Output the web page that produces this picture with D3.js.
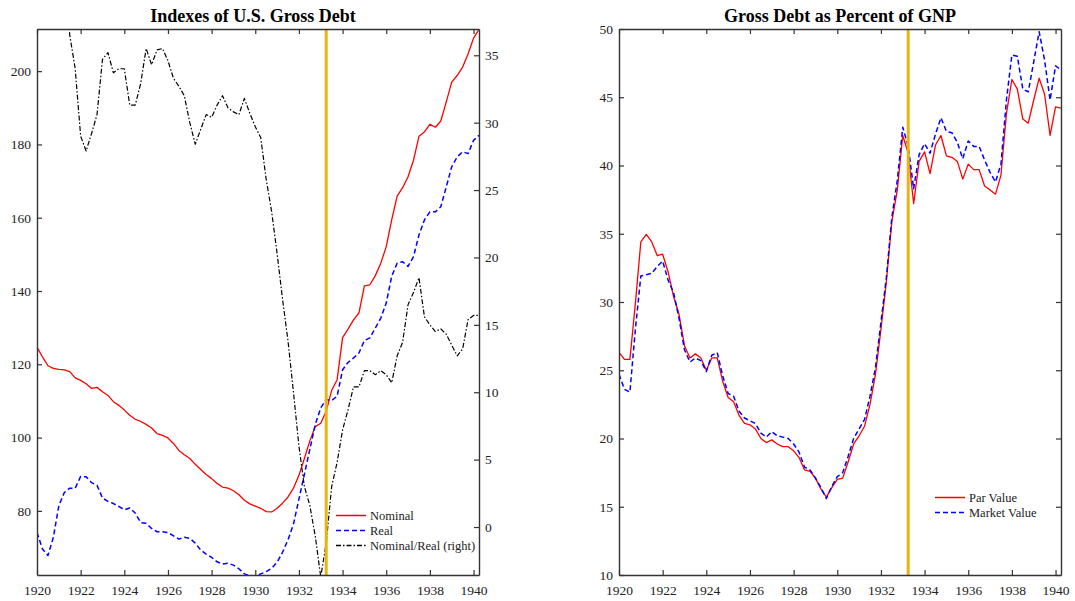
<!DOCTYPE html>
<html><head><meta charset="utf-8">
<script src="https://cdn.jsdelivr.net/npm/d3@7"></script>
<style>
body{margin:0;background:#fff;}
text{font-family:"Liberation Serif","Times New Roman",serif;}
</style>
</head><body><svg id="c" width="1075" height="601"></svg>
<script>
// ---------------- DATA (quarterly, starting 1920Q1) ----------------
const startYear = 1920;
const stepYears = 0.25;
const eventYear = 1933.25;

const nominal = [
 124.7,122.0,119.6,118.9, 118.6,118.5,118.0,116.3, 115.6,114.7,113.4,113.7,
 112.5,111.5,109.8,108.8, 107.5,106.1,105.0,104.4, 103.6,102.6,101.1,100.6,
 99.9,98.4,96.5,95.3, 94.3,92.7,91.3,89.9, 88.8,87.5,86.5,86.2,
 85.5,84.4,82.9,81.9, 81.3,80.7,79.8,79.7, 80.7,82.1,83.8,86.2,
 89.7,94.3,99.1,103.0, 103.9,107.2,112.9,115.8, 127.3,129.6,132.1,134.0,
 141.4,141.7,144.2,147.6, 152.1,159.4,165.9,168.2, 171.2,175.7,182.2,183.4,
 185.5,184.7,186.4,191.6, 197.0,198.8,201.1,204.7, 209.0,211.4
];
const real = [
 74.1,69.6,67.8,72.8, 81.4,85.0,86.2,86.2, 89.4,89.3,87.7,87.0,
 83.5,82.6,82.0,81.2, 80.3,80.8,79.4,76.8, 76.6,75.2,74.3,74.3,
 74.1,73.2,72.3,72.8, 72.5,71.2,69.3,68.2, 67.3,66.1,65.5,65.7,
 65.2,64.2,62.8,62.3, 62.2,62.8,63.4,64.3, 66.0,68.7,72.1,76.4,
 83.2,90.0,96.8,103.6, 108.1,110.4,110.1,111.3, 118.5,120.5,121.7,123.1,
 126.5,127.2,129.9,132.6, 136.7,144.0,147.6,148.0, 146.7,149.4,155.3,159.4,
 161.6,161.6,163.0,168.4, 173.9,176.6,178.0,177.5, 181.1,182.5
];
const ratioRight = [
 64,75,76,62, 46,42,36.5,34.0, 29.0,27.9,29.2,30.6,
 34.7,35.2,33.7,34.0, 34.0,31.3,31.3,32.9, 35.5,34.3,35.4,35.5,
 34.6,33.3,32.7,32.0, 30.0,28.4,29.5,30.6, 30.4,31.3,32.0,31.1,
 30.8,30.6,31.8,30.7, 29.7,28.9,25.8,23.4, 20.3,16.9,13.8,10.0,
 6.0,3.0,1.6,-0.7, -3.7,-1.2,3.0,4.8, 7.2,8.7,10.4,10.4,
 11.6,11.6,11.3,11.6, 11.3,10.7,12.7,13.7, 16.5,17.4,18.5,15.6,
 15.0,14.5,14.7,14.3, 13.5,12.7,13.2,15.4, 15.7,15.7
];
const parValue = [
 26.3,25.8,25.8,29.9, 34.4,34.95,34.4,33.4, 33.5,32.2,30.4,29.1,
 26.8,25.9,26.2,25.9, 25.0,25.9,25.9,24.2, 23.0,22.7,21.7,21.1,
 21.0,20.7,20.0,19.7, 19.9,19.6,19.4,19.4, 19.1,18.6,17.7,17.6,
 17.1,16.3,15.7,16.4, 17.0,17.1,18.3,19.6, 20.2,20.9,22.5,24.7,
 28.0,31.5,35.9,38.2, 42.2,40.9,37.2,40.3, 41.0,39.4,41.5,42.2,
 40.7,40.6,40.3,39.0, 40.1,39.7,39.7,38.5, 38.2,37.9,39.3,43.8,
 46.3,45.6,43.4,43.1, 44.8,46.4,45.2,42.2, 44.3,44.2
];
const marketValue = [
 24.7,23.6,23.4,28.0, 31.9,32.0,32.1,32.6, 33.0,31.6,30.7,28.8,
 26.5,25.6,25.9,25.7, 24.9,26.1,26.3,24.6, 23.3,23.1,22.0,21.5,
 21.3,21.1,20.4,20.1, 20.5,20.2,20.1,20.0, 19.6,19.0,17.9,17.7,
 17.1,16.4,15.6,16.5, 17.2,17.5,18.7,20.0, 20.7,21.4,23.1,25.2,
 28.5,31.8,36.2,38.9, 42.8,41.4,38.3,40.8, 41.6,40.9,42.3,43.5,
 42.5,42.4,41.7,40.5, 41.8,41.4,41.4,40.4, 39.5,38.8,40.1,44.8,
 48.1,48.0,45.6,45.4, 47.6,49.8,47.7,44.8, 47.3,47.0
];

const xTickValues = [1920,1922,1924,1926,1928,1930,1932,1934,1936,1938,1940];
const indexTicks = [80,100,120,140,160,180,200];
const ratioTicks = [0,5,10,15,20,25,30,35];
const gnpTicks = [10,15,20,25,30,35,40,45,50];

const leftTitle = "Indexes of U.S. Gross Debt";
const rightTitle = "Gross Debt as Percent of GNP";
const leftLegend = ["Nominal","Real","Nominal/Real (right)"];
const rightLegend = ["Par Value","Market Value"];

// ---------------- DRAWING ----------------
const years = nominal.map((_, i) => startYear + i * stepYears);
const svg = d3.select("#c");
const AX = "#333", TXT = "#222";
const styles = {
  red:   {stroke:"#ff0000", width:1.3, dash:null},
  blue:  {stroke:"#0000ff", width:1.5, dash:"5,3"},
  black: {stroke:"#000000", width:1.2, dash:"5,2,1.5,2"}
};

function styleAxis(g, fs) {
  g.selectAll("path.domain").attr("stroke", AX).attr("stroke-width", 1.4);
  g.selectAll(".tick line").attr("stroke", AX).attr("stroke-width", 1.2);
  g.selectAll(".tick text").attr("fill", TXT).style("font-size", fs + "px")
    .style("font-family", '"Liberation Serif","Times New Roman",serif');
}

function panel(cfg) {
  const {L, R, T, B} = cfg;
  const g = svg.append("g");
  const x = d3.scaleLinear().domain([1920, 1940.25]).range([L, R]);
  const y = d3.scaleLinear().domain(cfg.yDomain).range([B, T]);
  const clipId = "clip" + cfg.id;
  svg.append("clipPath").attr("id", clipId).append("rect")
    .attr("x", L).attr("y", T).attr("width", R - L).attr("height", B - T);

  // title
  g.append("text").attr("x", cfg.titleX).attr("y", 22).attr("text-anchor", "middle")
    .style("font-size", "18px").style("font-weight", "bold").attr("fill", "#000")
    .text(cfg.title);

  const lines = g.append("g").attr("clip-path", `url(#${clipId})`);
  cfg.series.forEach(s => {
    const ys = s.axis === "right" ? cfg.y2 : y;
    const line = d3.line().x((d, i) => x(years[i])).y(d => ys(d));
    const st = styles[s.style];
    lines.append("path").datum(s.values).attr("d", line)
      .attr("fill", "none").attr("stroke", st.stroke).attr("stroke-width", st.width)
      .attr("stroke-dasharray", st.dash).attr("stroke-linejoin", "round");
  });

  // event line
  g.append("line").attr("x1", x(eventYear)).attr("x2", x(eventYear))
    .attr("y1", T).attr("y2", B).attr("stroke", "#e6b414").attr("stroke-width", 3);

  // axes
  const fs = 13.5;
  styleAxis(g.append("g").attr("transform", `translate(0,${B})`)
    .call(d3.axisBottom(x).tickValues(xTickValues).tickFormat(d3.format("d"))
      .tickSizeInner(-5).tickSizeOuter(0).tickPadding(10)), fs);
  styleAxis(g.append("g").attr("transform", `translate(0,${T})`)
    .call(d3.axisTop(x).tickValues(xTickValues).tickFormat("")
      .tickSizeInner(-5).tickSizeOuter(0)), fs);
  styleAxis(g.append("g").attr("transform", `translate(${L},0)`)
    .call(d3.axisLeft(y).tickValues(cfg.yTicks).tickFormat(d3.format("d"))
      .tickSizeInner(-5).tickSizeOuter(0).tickPadding(6)), fs);
  if (cfg.y2) {
    styleAxis(g.append("g").attr("transform", `translate(${R},0)`)
      .call(d3.axisRight(cfg.y2).tickValues(cfg.y2Ticks).tickFormat(d3.format("d"))
        .tickSizeInner(-5).tickSizeOuter(0).tickPadding(6)), fs);
  } else {
    styleAxis(g.append("g").attr("transform", `translate(${R},0)`)
      .call(d3.axisRight(y).tickValues(cfg.yTicks).tickFormat("")
        .tickSizeInner(-5).tickSizeOuter(0)), fs);
  }

  // legend
  const lg = g.append("g").attr("transform", `translate(${cfg.legX},${cfg.legY})`);
  cfg.legend.forEach((name, i) => {
    const st = styles[cfg.series[i].style];
    lg.append("line").attr("x1", 0).attr("x2", 30).attr("y1", i * 15).attr("y2", i * 15)
      .attr("stroke", st.stroke).attr("stroke-width", st.width + 0.2).attr("stroke-dasharray", st.dash);
    lg.append("text").attr("x", 34).attr("y", i * 15).attr("dy", "0.33em")
      .style("font-size", "12.5px").attr("fill", TXT).text(name);
  });
}

// left panel
{
  const T = 29, B = 575;
  const y2 = d3.scaleLinear().domain([-3.56, 36.95]).range([B, T]);
  panel({
    id: "L", L: 37, R: 479, T, B, yDomain: [62.5, 211.5], yTicks: indexTicks,
    y2, y2Ticks: ratioTicks, title: leftTitle, titleX: 253,
    series: [
      {values: nominal, style: "red"},
      {values: real, style: "blue"},
      {values: ratioRight, style: "black", axis: "right"}
    ],
    legend: leftLegend, legX: 336, legY: 515.5
  });
}
// right panel
{
  panel({
    id: "R", L: 619, R: 1061, T: 29, B: 575, yDomain: [10, 50], yTicks: gnpTicks,
    title: rightTitle, titleX: 840,
    series: [
      {values: parValue, style: "red"},
      {values: marketValue, style: "blue"}
    ],
    legend: rightLegend, legX: 935, legY: 497.5
  });
}
</script>
</body></html>
